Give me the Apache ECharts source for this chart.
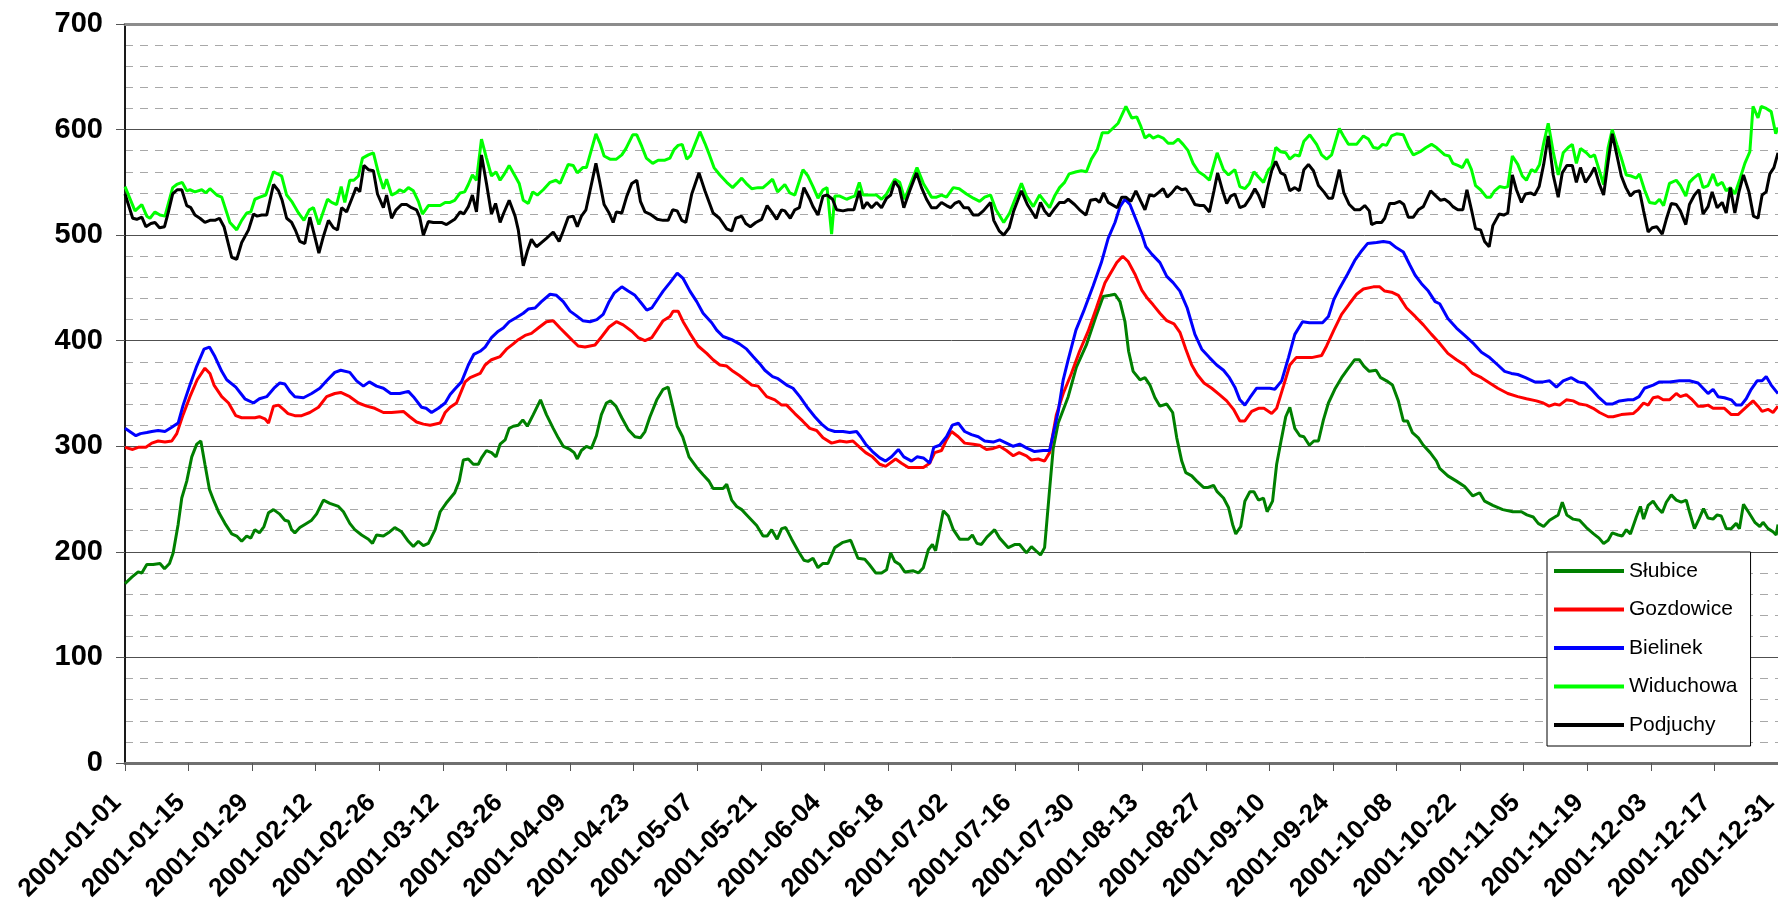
<!DOCTYPE html>
<html>
<head>
<meta charset="utf-8">
<script src="https://cdn.jsdelivr.net/npm/echarts@6/dist/echarts.min.js"></script>
<style>
html,body{margin:0;padding:0;background:#fff;}
#chart{width:1778px;height:911px;}
</style>
</head>
<body>
<div id="chart"></div>
<script>
// x = day of year (0 = 2001-01-01), ticks every 14 days
const tickLabels = ['2001-01-01','2001-01-15','2001-01-29','2001-02-12','2001-02-26','2001-03-12','2001-03-26','2001-04-09','2001-04-23','2001-05-07','2001-05-21','2001-06-04','2001-06-18','2001-07-02','2001-07-16','2001-07-30','2001-08-13','2001-08-27','2001-09-10','2001-09-24','2001-10-08','2001-10-22','2001-11-05','2001-11-19','2001-12-03','2001-12-17','2001-12-31'];
const seriesNames = ['Słubice','Gozdowice','Bielinek','Widuchowa','Podjuchy'];
const seriesColors = ['#008000','#ff0000','#0000ff','#00ff00','#000000'];

// [day, value]
const slubice = [[0,170],[1.5,176],[2.9,181],[3.7,180],[4.8,188],[6.2,188],[7.7,189],[8.7,184],[9.8,189],[10.6,199],[11.7,226],[12.5,251],[13.6,267],[14.7,290],[15.8,302],[16.7,305],[17.6,283],[18.6,259],[19.6,248],[20.7,237],[22,227],[23.5,217],[24.6,215],[25.7,210],[26.8,215],[27.7,213],[28.6,221],[29.6,218],[30.6,224],[31.6,237],[32.7,240],[34,236],[35.2,230],[36,229],[36.7,221],[37.4,218],[38.5,223],[39.6,226],[41.1,230],[42.2,236],[43.7,249],[45.1,246],[47,243],[48.1,238],[49.5,227],[50.6,221],[52.1,216],[53.6,212],[54.5,208],[55.4,216],[56.9,215],[58,218],[59.4,223],[60.9,219],[62.4,210],[63.5,205],[64.6,210],[65.7,206],[66.8,208],[68.3,221],[69.4,238],[70.7,246],
[72.6,256],[73.6,267],[74.5,287],[75.6,288],[76.7,283],[77.8,283],[78.5,289],[79.6,296],[80.7,294],[81.7,290],[82.6,302],[83.7,306],[84.6,317],[85.5,319],[86.6,320],[87.6,325],[88.6,319],[89.9,330],[91.5,344],[92.8,330],[94.3,317],[95.4,308],[96.5,300],[98,297],[98.9,294],[99.6,288],[100.5,296],[101.6,300],[102.7,298],[103.8,310],[104.9,330],[106,341],[106.9,343],[108.1,338],[109.4,327],[110.8,316],[112.3,309],[113.5,308],[114.5,314],[115.6,328],[117.1,344],[118.5,354],[119.6,356],[120.6,338],[121.6,319],[122.8,309],[124.2,290],[125.9,280],[127.3,273],[128.6,267],[129.5,260],[130.6,260],[131.7,260],[132.5,264],[133.6,249],[134.7,243],[135.8,240],[136.9,235],[138,230],[139.1,225],[140.5,215],[141.4,215],[142.4,221],[143.6,212],[144.6,222],
[145.5,223],[146.8,212],[148.2,201],[149.5,192],[150.4,191],[151.5,194],[152.6,185],[153.7,189],[154.8,189],[156.3,204],[158.1,209],[159.8,211],[161.4,194],[162.9,193],[163.9,188],[165.3,180],[166.6,180],[167.7,183],[168.6,199],[169.5,191],[170.6,188],[171.7,181],[173.6,182],[174.7,180],[175.8,185],[176.9,202],[177.8,207],[178.5,201],[180.2,239],[181.3,234],[182.4,221],[183.8,212],[185.7,212],[186.6,216],[187.6,208],[188.6,207],[189.8,214],[191.5,221],[192.6,213],[194.5,204],[196,207],[197,207],[198.5,199],[199.6,205],[201.6,197],[202.5,204],[203.5,254],[204.4,298],[205.5,322],[207.7,347],[209.5,375],[211.7,396],[213.8,423],[215.4,442],[216.9,443],
[218,444],[219.1,437],[220.2,418],[221,390],[222,371],[223.5,363],[224.6,365],[225.7,358],[226.8,346],[227.9,338],[229.4,340],[230.7,332],[231.6,308],[232.7,286],[233.6,275],[234.9,272],[236,267],[237.5,261],[238.5,261],[239.7,263],[240.5,257],[241.9,251],[243,242],[243.9,226],[244.6,217],[245.7,224],[246.6,248],[247.7,257],[248.6,257],[249.6,249],[250.7,251],[251.5,238],[252.7,248],[253.6,283],[254.7,308],[255.6,328],[256.5,337],[257.6,317],[258.7,310],[259.6,309],[260.8,301],[261.8,305],[262.8,305],[263.9,325],[265,341],[266.4,354],[267.9,365],[269.4,374],[270.8,382],[271.8,382],[272.8,376],[274,371],[275.5,372],[276.5,365],[277.8,362],[279.1,358],[280.4,343],[281.5,324],[282.4,324],[283.5,313],[284.8,308],[285.9,301],[287.4,294],[288.8,286],
[289.5,279],[291.3,272],[293.2,267],[295,262],[296.8,253],[298.3,256],[299.4,248],[301.2,244],[303.4,240],[305.6,238],[307.5,238],[308.7,235],[310.1,233],[311.2,227],[312.4,224],[313.7,230],[315.6,235],[316.5,247],[317.5,235],[318.9,231],[320.3,230],[321.8,223],[323.4,217],[324.6,213],[325.6,208],[326.6,211],[327.5,218],[328.8,216],[329.7,215],[330.6,221],[331.5,217],[332.8,233],[333.7,243],[334.4,231],[335.4,244],[336.5,248],[337.6,241],[338.5,237],[339.4,247],[340.5,254],[341.6,249],[342.7,247],[343.8,249],[344.5,238],[345.6,222],[346.6,231],[347.6,241],[348.6,232],[349.7,231],[350.6,235],[351.5,234],[352.6,222],[353.7,222],[354.8,227],[355.5,222],[356.4,245],[357.6,237],[358.9,228],[360,224],[360.7,228],[361.8,222],[362.9,219],[363.6,216],[364,226]];

const gozdowice = [[0,299],[1.7,297],[2.9,299],[4.6,299],[5.9,303],[7.3,305],[8.8,304],[10.3,305],[11.4,312],[12.8,330],[14.3,347],[15.9,363],[17.6,374],[18.7,369],[19.6,358],[21.3,347],[22.8,341],[24.4,329],[25.7,327],[27.2,327],[28.6,327],[29.6,328],[30.8,326],[31.6,322],[32.7,338],[33.8,339],[34.9,335],[35.9,331],[37.4,329],[38.9,329],[40.7,332],[42.6,337],[44.4,347],[46.2,350],[47.5,351],[49.5,347],[51.4,341],[53.2,338],[55,336],[56.9,332],[58.7,332],[61.3,333],[62.7,328],[64.2,323],[65.7,321],[67.2,320],[69.4,322],[70.5,332],[71.6,337],
[73,341],[74.9,361],[76,365],[78.2,369],[79.3,377],[80.7,382],[82.6,385],[84,392],[85.5,397],[86.6,401],[88.1,405],[89.5,407],[91,412],[92.8,418],[94.3,419],[95.8,412],[97.2,406],[98.6,400],[99.8,395],[101.3,394],[103.5,396],[105,404],[106.6,413],[108.2,418],[109.7,415],[111.6,409],[113,403],[114.5,400],[116,403],[117.4,412],[118.5,419],[120,423],[120.7,428],[121.8,428],[122.9,418],[124.4,407],[126.2,395],[128.1,388],[129.5,382],[131,377],[132.5,376],[133.9,371],[135.3,367],[136.5,363],[138,358],[139.4,357],[141.3,347],[143.1,344],[144.6,339],
[145.7,339],[147.5,331],[149.2,324],[150.8,317],[152.3,315],[153.7,308],[155.6,303],[157.4,305],[158.9,304],[160.3,305],[161.8,299],[163.1,294],[164.6,290],[166.2,283],[167.5,281],[169.7,288],[171,284],[172.5,280],[174.3,280],[175.8,280],[177.2,284],[178.3,294],[179.8,296],[180.9,306],[182,314],[183.5,309],[184.9,303],[186.8,302],[188.2,301],[189.7,297],[191.2,298],[192.6,300],[194.1,296],[195.6,291],[196.9,294],[198.5,291],[199.6,287],[201.1,288],[202.5,286],[203.6,294],[205.1,330],[206.6,350],[208.4,369],[210.2,390],[212.1,409],[213.9,431],[215.8,455],
[218.4,474],[219.7,480],[220.9,475],[222.4,463],[223.9,448],[225,441],[226.4,434],[227.9,426],[229.4,419],[231,416],[232.3,408],[233.6,392],[234.9,377],[236.1,368],[237.6,360],[239.3,355],[241,349],[242.6,343],[244.1,335],[245.5,324],[246.6,324],[248.1,333],[249.6,336],[250.8,336],[252.5,331],[253.6,336],[255.1,357],[256.5,377],[257.9,384],[259.5,384],[261.3,384],[263.5,386],[264.6,395],[266.2,410],[267.9,425],[269.6,435],[271.2,444],[272.7,449],[274.9,451],[276.3,451],[277.4,447],[278.9,446],[280.4,443],[282.2,431],[284.1,423],[285.9,415],[287.7,406],[289.2,399],
[291.3,388],[293.2,382],[295,377],[296.8,369],[298.7,365],[300.5,360],[302.3,355],[304.5,350],[306.7,347],[308.6,345],[310.8,343],[312.3,341],[313.6,338],[314.8,340],[315.9,339],[317.4,344],[318.9,343],[320.3,340],[321.8,339],[323.3,336],[324.7,332],[326.6,328],[327.7,328],[329.5,330],[332.1,331],[333.2,335],[334.4,341],[335.4,339],[336.5,346],[337.6,347],[338.7,344],[340.1,344],[341.6,350],[342.5,347],[343.8,349],[344.9,345],[346.4,338],[347.5,338],[348.6,339],[349.7,336],[351.1,336],[352.2,336],[353.7,330],[355.2,330],[356.7,336],[358.5,343],[359.6,338],[360.5,333],[361.8,335],[362.9,332],[364,338]];

const bielinek = [[0,317],[2.4,310],[3.4,312],[4.8,313],[5.9,314],[7.3,315],[8.8,314],[10.3,318],[11.7,322],[12.8,339],[14.3,358],[15.8,376],[17.4,392],[18.6,394],[19.8,385],[21.3,371],[22.4,363],[24.4,356],[25.5,350],[26.4,345],[28.3,341],[29.6,345],[31.2,347],[32.8,355],[34.1,360],[35.2,359],[36.3,352],[37.4,347],[39.3,346],[41.1,350],[42.9,355],[44.4,362],[46.2,370],[47.5,372],[49.5,370],[51,362],[52.5,357],[53.8,361],[55.4,357],[56.9,355],[58.5,350],[60.5,350],[62.4,352],[63.5,347],[65.3,337],[66.3,336],[67.5,332],[69,336],[70.5,341],[71.6,349],
[72.6,354],[74.1,361],[75.6,377],[76.8,387],[78.2,390],[79.3,394],[80.7,403],[82.2,409],[83.3,412],[84.6,418],[86.2,422],[87.7,426],[88.8,430],[90.3,431],[91.7,437],[93.6,444],[95,443],[96.5,437],[98,428],[99.3,424],[100.8,419],[102.4,418],[103.9,420],[105.3,425],[106.6,437],[107.7,445],[109.4,451],[110.8,447],[112.3,443],[113.8,435],[114.9,429],[116,431],[117.4,440],[118.5,447],[120,455],[121.6,464],[122.9,459],[124.4,447],[125.9,437],[127.3,426],[129.2,417],[130.3,410],[131.7,404],[133.6,401],[135.3,397],[136.9,392],[138.3,385],[139.8,378],[140.9,372],[142.6,366],[143.8,364],
[145.7,358],[147.1,355],[148.6,347],[150.4,336],[151.9,328],[153.4,321],[154.8,316],[156.3,314],[158.1,314],[159.6,313],[161.1,314],[162,309],[163.1,302],[164.6,295],[166.2,289],[167.5,286],[168.8,290],[170.3,297],[171.5,290],[173.2,286],[174.4,290],[175.8,289],[177.2,284],[178.1,299],[179.4,301],[180.9,309],[182.2,320],[183.5,322],[184.9,314],[186.4,311],[187.9,309],[189.3,305],[191.2,304],[192.6,306],[194.1,303],[195.6,300],[197,302],[198.7,298],[200.3,295],[202.2,296],[203.6,296],[205.5,333],[206.6,363],[207.7,382],[209.4,410],[211.1,428],[213.2,452],[215,474],[216.5,497],
[218,512],[219.1,527],[220.2,534],[221.3,529],[222.6,515],[223.9,501],[224.8,489],[226.1,482],[227.9,474],[229.4,461],[230.8,455],[232.3,447],[233.9,431],[235.6,406],[237.1,392],[238.8,384],[240.4,377],[241.9,372],[243.2,365],[244.4,356],[245.5,344],[246.6,339],[247.7,346],[249.2,355],[250.7,355],[252.1,355],[253.2,354],[254.7,362],[256.2,384],[257.6,406],[259.3,418],[260.8,417],[262.3,417],[263.7,417],[265,423],[266.2,439],[267.5,450],[269.2,463],[270.8,476],[272.1,484],[273.6,492],[275.6,493],[277.1,494],[278.5,493],[280,488],[281.5,484],[282.9,472],[284.1,462],[285.5,454],[287,447],[288.5,437],
[289.5,435],[291.3,421],[293.2,412],[295,405],[296.8,398],[298.7,389],[300.5,384],[302.3,377],[303.8,371],[305.3,369],[306.7,368],[308.4,365],[310.4,361],[312.3,361],[313.7,362],[315.2,356],[316.7,362],[318.5,365],[320,361],[321.4,360],[322.9,354],[324.6,346],[326.2,340],[327.5,340],[329.1,343],[331,344],[332.1,344],[333.4,347],[334.6,355],[336.5,358],[337.9,361],[340.1,361],[342.3,362],[344.5,362],[346.4,360],[347.5,355],[348.6,350],[349.7,354],[350.8,347],[352.2,346],[353.7,344],[354.8,339],[355.9,339],[357,345],[358.1,354],[359.4,362],[360.5,362],[361.4,366],[362.5,358],[363.6,352],[364,350]];

const widuchowa = [[0,546],[2.2,523],[3.7,529],[4.8,518],[5.5,516],[6.6,522],[7.7,519],[8.8,518],[10.5,545],[11.4,548],[12.6,550],[13.6,542],[14.3,543],[15.4,541],[16.9,543],[17.8,540],[18.7,544],[20.2,538],[21.3,536],[23.1,512],[24.6,505],[25.7,514],[26.8,521],[27.7,522],[28.6,534],[29.7,536],[31,538],[32.7,560],[34.5,556],[35.6,538],[36.7,532],[38.2,521],[39.4,514],[40.6,524],[41.5,526],[42.7,510],[44.6,534],[45.5,531],[46.6,529],[47.6,546],[48.4,531],[49.5,552],[50.4,552],[51.4,556],[52.3,573],[53.6,576],[54.7,578],[55.8,559],[56.9,544],[57.6,553],[58.7,538],[59.7,540],[60.5,543],[61.4,541],[62.4,545],[63.5,542],[64.6,532],[65.5,520],[66.8,528],[67.9,528],[69.4,528],[70.5,531],[71.6,531],
[72.6,533],[73.8,540],[74.8,541],[75.6,548],[76.5,557],[77.4,552],[78.5,591],[79.6,573],[80.7,556],[81.7,560],[82.6,552],[83.4,557],[84.6,566],[85.9,556],[86.8,549],[87.7,533],[88.8,530],[89.8,541],[90.8,538],[92.1,543],[93.6,550],[94.9,552],[95.8,549],[97.6,567],[98.7,566],[99.6,559],[100.8,564],[101.6,564],[103.7,596],[104.6,587],[105.5,575],[106.8,572],[108.2,572],[109.4,576],[110.3,582],[111.8,595],[112.7,595],[113.8,584],[114.8,573],[116.2,568],[117.4,571],[118.9,571],[120,573],[120.9,581],[121.8,585],[122.7,586],[123.7,572],[124.5,575],[125.5,586],[126.6,598],[127.7,587],[128.7,576],[129.7,564],[131,557],[132.5,550],[133.8,545],[134.7,549],[135.8,554],[137,548],[138,544],[139.4,545],[140.5,545],[141.6,549],[142.6,553],[143.7,541],
[145.3,548],[146.4,540],[147.5,538],[149.3,562],[150.4,556],[151.5,546],[152.6,535],[153.7,543],[154.6,545],[155.6,501],[156.3,537],[157.4,537],[158.9,534],[160,536],[160.7,537],[161.7,550],[162.5,538],[163.6,538],[165.5,538],[166.6,534],[167.7,539],[169.5,553],[170.6,550],[171.7,534],[173.2,551],[174.4,564],[175.8,549],[177.6,536],[178.7,536],[179.8,538],[180.9,536],[182.4,545],[183.7,544],[185.3,539],[186.8,535],[188.2,532],[189.3,536],[190.6,538],[191.8,524],[193.5,512],[194.8,521],[195.9,533],[197.4,549],[198.5,537],[200,527],[201.4,538],[202.5,532],[203.6,526],[204.7,537],[205.8,545],[206.9,550],[207.9,558],[209.5,560],[210.6,561],[211.7,560],[212.8,572],[214.1,581],[215.2,597],[216.5,597],
[218.7,606],[220.4,622],[221.7,611],[222.8,612],[223.7,603],[224.6,592],[225.6,595],[226.4,592],[227.5,594],[228.6,592],[229.7,587],[230.8,587],[231.9,591],[233,586],[234.1,580],[235.2,568],[236.4,560],[237.5,557],[238.8,552],[240.5,578],[241.9,562],[243,557],[244.4,562],[245.5,546],[246.6,544],[247.6,549],[248.6,560],[249.6,555],[250.7,550],[251.8,562],[252.5,565],[253.4,583],[254.5,579],[255.6,578],[256.5,572],[257.6,576],[258.6,575],[259.6,589],[260.9,595],[262.4,586],[263.5,576],[264.6,572],[265.7,576],[267.4,601],[268.3,594],[269.4,586],[271.2,586],[272.7,594],[273.8,591],[274.9,583],[276,582],[276.9,586],[277.8,585],[278.9,594],[280,596],[281.5,595],[282.6,584],[283.7,576],[285.2,579],[286.5,583],[287.7,586],[288.8,583],
[290.6,576],[291.6,575],[292.4,568],[293.5,566],[294.5,564],[295.5,572],[296.5,562],[297.4,547],[298.5,543],[299.8,536],[300.7,536],[301.6,542],[302.7,546],[303.8,545],[304.5,546],[305.5,575],[306.7,567],[307.7,556],[308.6,552],[309.7,562],[310.6,560],[311.5,567],[312.4,587],[313.4,606],[314.5,579],[315.6,557],[316.7,578],[317.8,583],[318.7,586],[319.6,568],[320.5,582],[321.8,578],[322.7,574],[323.6,576],[324.6,562],[325.6,548],[326.6,583],[327.5,600],[328.5,586],[329.5,573],[330.6,557],[331.7,556],[332.8,554],[333.5,558],[334.6,543],[335.7,531],[337,530],[337.9,534],[338.8,528],[340.1,549],[341.6,552],[342.5,547],[343.7,537],[344.5,550],[345.4,554],[346.6,558],[347.5,545],[348.6,547],[349.7,558],[350.6,547],[351.7,550],[352.6,542],[353.5,545],[354.5,539],[355.6,553],[356.7,568],[357.8,579],[358.5,622],[359.6,611],[360.3,622],[361.4,620],[362.5,617],[363.5,596],[364,602]];

const podjuchy = [[0,539],[1.7,516],[2.6,515],[3.7,517],[4.6,508],[5.7,511],[6.6,512],[7.6,507],[8.7,508],[9.5,521],[10.5,539],[11.5,543],[12.5,543],[13.6,528],[14.5,526],[15.4,519],[16.5,516],[17.6,512],[18.7,514],[19.8,514],[20.8,516],[21.8,508],[23.5,479],[24.6,477],[25.7,493],[27.2,505],[28.3,520],[29.1,518],[30.1,519],[31.2,519],[32.7,548],[33.8,542],[34.6,533],[35.6,516],[36.7,512],[37.6,504],[38.5,494],[39.6,492],[40.7,517],[41.6,502],[42.7,483],[43.7,499],[44.8,514],[45.9,507],[46.8,505],[47.7,526],[48.8,522],[49.9,534],[50.9,545],[51.7,541],[52.6,566],[53.6,562],[54.7,561],[55.6,539],[56.9,526],[57.6,538],[58.7,516],[59.7,524],[60.9,529],[62,529],[63.1,526],[64.2,524],[64.9,517],[65.7,500],[66.8,513],[67.9,512],[69,512],[69.7,512],[70.8,510],
[72.6,515],[73.8,522],[74.6,520],[75.6,527],[76.5,538],[77.4,522],[78.5,576],[79.6,549],[80.7,520],[81.6,530],[82.6,512],[83.4,521],[84.6,533],[85.9,518],[86.6,505],[87.7,471],[88.6,485],[89.5,496],[90.6,489],[91.7,493],[92.8,497],[94.3,503],[95.6,494],[96.5,504],[97.6,517],[98.7,518],[99.6,508],[100.5,518],[101.5,524],[102.4,542],[103.7,568],[104.6,549],[105.5,529],[106.6,521],[107.5,512],[108.2,522],[109.4,521],[110.5,537],[111.6,549],[112.7,552],[113.5,532],[114.5,522],[115.6,520],[117.2,515],[118.5,514],[119.6,514],[120.6,524],[121.6,523],[122.6,514],[123.5,512],[124.8,539],[126.4,559],[127.7,542],[129.5,521],[130.9,516],[132.5,506],[133.6,504],[134.5,516],[135.8,518],[136.7,511],[137.7,508],[138.9,512],[140.2,515],[141.4,528],[142.4,522],[143.5,515],[144.6,524],
[145.3,523],[146.5,516],[147.5,524],[148.5,526],[149.5,545],[150.7,535],[151.5,527],[152.6,519],[153.7,537],[154.6,538],[155.8,534],[156.7,524],[158.1,523],[159.2,524],[160.5,524],[161.7,542],[162.5,525],[163.4,531],[164.4,526],[165.5,531],[166.6,526],[167.7,535],[168.6,538],[169.5,551],[170.5,545],[171.5,526],[172.8,542],[174.3,559],[175.4,545],[176.5,534],[177.6,526],[178.7,526],[179.8,531],[180.9,528],[181.8,526],[182.7,530],[183.7,532],[184.7,526],[185.7,526],[186.8,519],[187.9,519],[189,523],[190.6,531],[191.3,514],[192.5,504],[193.5,500],[194.7,507],[195.7,523],[197.4,542],[198.7,529],[200.6,516],[201.6,531],[202.5,523],[203.5,518],[204.5,524],[205.8,531],[206.9,531],[207.7,534],[209.1,529],[210.2,524],[211.6,519],[212.6,533],[213.8,534],[214.6,531],[215.5,540],[216.5,531],
[218.5,526],[219.5,536],[220.4,536],[221.5,532],[222.6,542],[223.7,532],[224.6,524],[225.6,538],[226.6,537],[227.5,540],[228.6,544],[229.5,536],[230.5,540],[231.6,546],[232.7,543],[233.6,544],[234.5,538],[235.6,529],[236.7,528],[237.6,528],[238.8,522],[239.8,542],[240.6,559],[241.7,542],[242.6,530],[243.5,537],[244.4,539],[245.5,526],[246.6,528],[247.7,535],[248.8,544],[249.6,538],[250.7,526],[251.5,543],[252.5,561],[253.4,570],[254.5,559],[255.4,557],[256.5,542],[257.6,545],[258.6,542],[259.6,562],[260.6,567],[261.7,561],[262.8,547],[264,541],[265,535],[265.9,535],[267.4,562],[268.4,540],[269.6,529],[270.8,524],[271.9,524],[273,528],[274,523],[274.5,510],[275.6,512],[276.7,512],[277.4,516],[278.5,530],[279.6,530],[280.7,532],[281.6,529],[282.6,517],[283.7,517],[284.8,524],[285.9,527],[287.5,542],[288.7,537],[289.7,533],
[290.6,534],[291.6,531],[292.4,527],[293.5,524],[294.6,524],[295.5,543],[296.5,524],[297.4,506],[298.5,505],[299.4,494],[300.4,489],[301.2,509],[302.6,520],[303.6,519],[304.5,521],[305.5,557],[306.4,543],[307.5,531],[308.4,539],[309.5,540],[310.4,538],[311.4,546],[312.4,567],[313.4,594],[314.5,557],[315.6,536],[316.5,559],[317.5,566],[318.7,566],[319.6,550],[320.5,564],[321.6,550],[322.7,557],[323.6,564],[324.6,549],[325.6,538],[326.6,570],[327.5,596],[328.4,578],[329.5,556],[330.5,545],[331.5,537],[332.4,541],[333.5,542],[334.4,523],[335.4,503],[336.3,507],[337.3,508],[338.5,501],[339.4,515],[340.5,530],[341.6,529],[342.5,523],[343.7,510],[344.5,529],[345.6,538],[346.6,543],[347.5,520],[348.6,527],[349.5,541],[350.6,526],[351.7,531],[352.6,521],[353.5,545],[354.5,521],[355.4,541],[356.4,557],[357.6,541],[358.6,518],[359.6,516],[360.5,538],[361.4,541],[362.2,558],[363.1,564],[364,578]];

const seriesData = [slubice, gozdowice, bielinek, widuchowa, podjuchy];

const FONT = "'Liberation Sans', Arial, Helvetica, sans-serif";
const chart = echarts.init(document.getElementById('chart'), null, {renderer: 'canvas'});

const option = {
  backgroundColor: '#ffffff',
  animation: false,
  grid: {left: 125, right: 0, top: 24, bottom: 148, containLabel: false, outerBoundsMode: 'none'},
  legend: {
    orient: 'vertical',
    left: 1547, top: 552,
    padding: [7, 13, 9, 7],
    backgroundColor: '#ffffff',
    borderColor: '#000000',
    borderWidth: 1,
    borderRadius: 0,
    itemWidth: 70,
    itemHeight: 4,
    itemGap: 14.5,
    icon: 'rect',
    textStyle: {fontSize: 21, fontFamily: FONT, color: '#000', lineHeight: 24},
    data: seriesNames
  },
  xAxis: [{
    type: 'value', min: 0, max: 364, interval: 14,
    axisLine: {show: true, onZero: false, lineStyle: {color: '#707070', width: 3}},
    axisTick: {show: true, length: 8, lineStyle: {color: '#555555', width: 1}},
    axisLabel: {
      rotate: 45, margin: 28, fontSize: 26, fontWeight: 'bold', color: '#000',
      align: 'right', verticalAlign: 'middle', padding: [0, 11, 0, 0],
      fontFamily: FONT,
      formatter: function (v) { return tickLabels[Math.round(v / 14)]; }
    },
    splitLine: {show: false}
  }, {
    type: 'value', position: 'top', min: 0, max: 364,
    axisLine: {show: true, onZero: false, lineStyle: {color: '#8c8c8c', width: 3}},
    axisTick: {show: false}, axisLabel: {show: false}, splitLine: {show: false}
  }],
  yAxis: {
    type: 'value', min: 0, max: 700, interval: 100,
    axisLine: {show: true, onZero: false, lineStyle: {color: '#1a1a1a', width: 2}},
    axisTick: {show: true, length: 9, lineStyle: {color: '#555555', width: 1}},
    axisLabel: {margin: 22, fontSize: 29, fontWeight: 'bold', color: '#000', fontFamily: FONT},
    splitLine: {show: true, lineStyle: {color: '#505050', width: 1}},
    minorTick: {show: false, splitNumber: 5},
    minorSplitLine: {show: true, lineStyle: {color: '#a8a8a8', width: 1, type: [8, 7]}}
  },
  series: seriesNames.map(function (name, i) {
    return {
      name: name,
      type: 'line',
      xAxisIndex: 0,
      data: seriesData[i],
      symbol: 'none',
      showSymbol: false,
      color: seriesColors[i],
      lineStyle: {color: seriesColors[i], width: 3},
      z: 2 + i * 0.01
    };
  })
};
chart.setOption(option);
</script>
</body>
</html>
